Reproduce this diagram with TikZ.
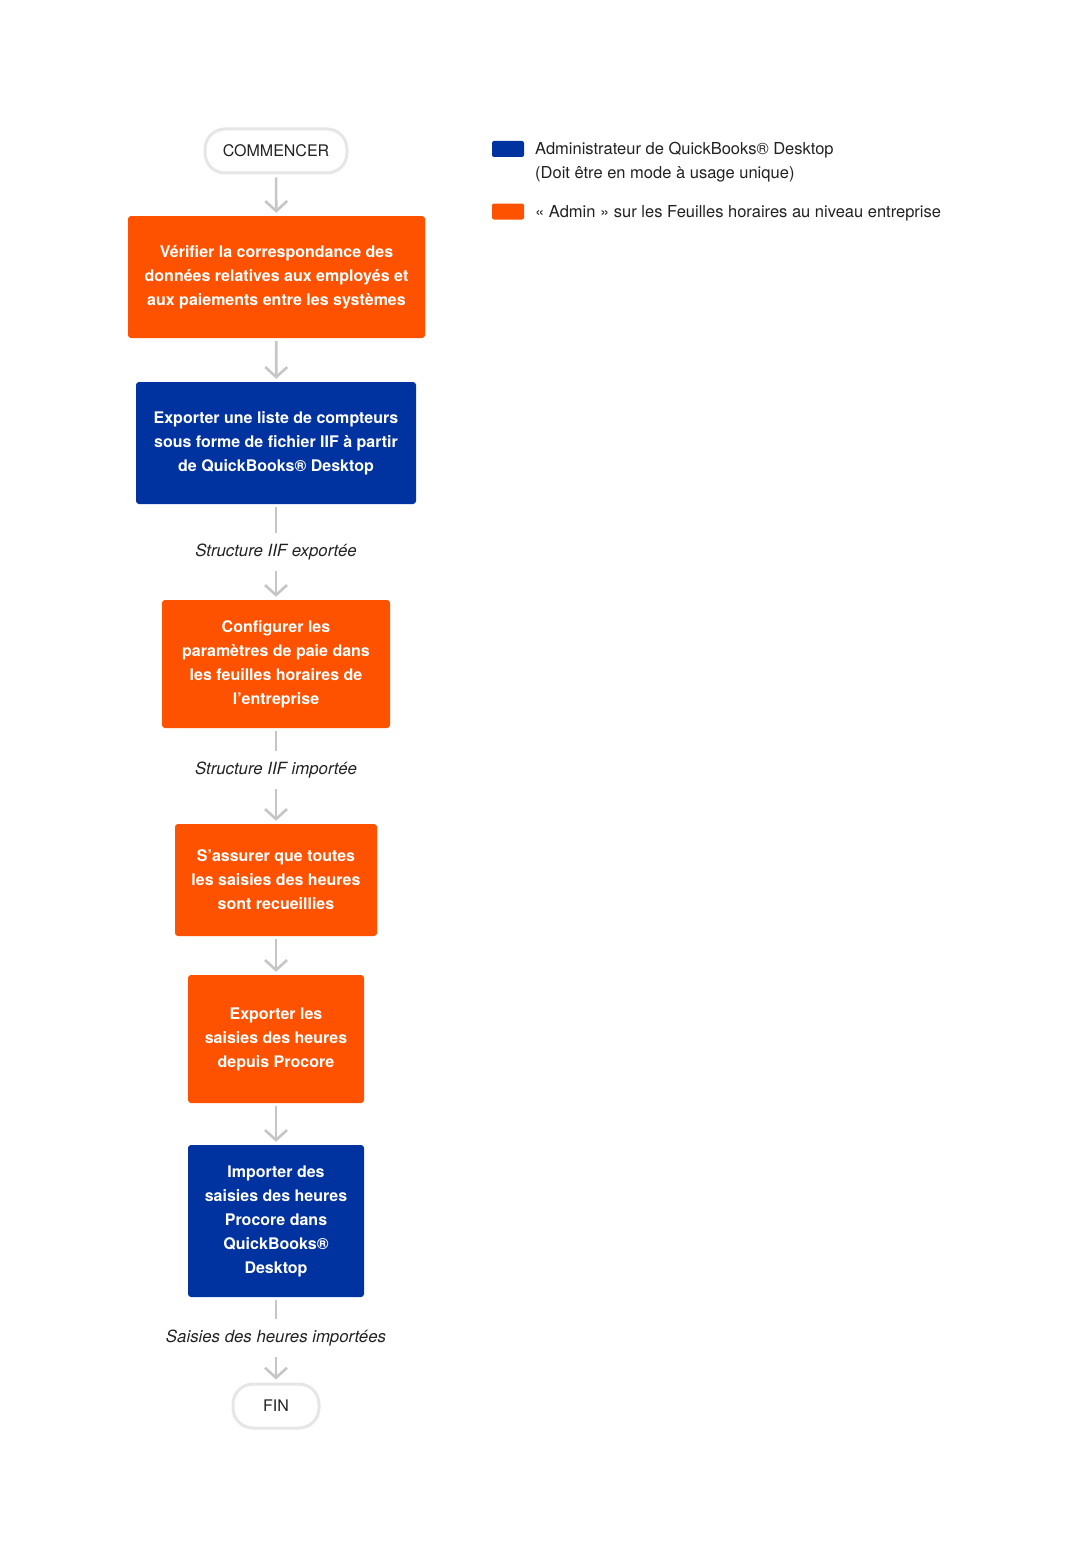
\documentclass[tikz,border=0pt]{standalone}
\usepackage{fontspec}
\setmainfont{TeX Gyre Heros}
\usepackage{tikz}
\usetikzlibrary{arrows.meta}
\definecolor{procorange}{HTML}{FF5200}
\definecolor{qbblue}{HTML}{0033A0}
\definecolor{flowgray}{HTML}{C6C6C6}
\definecolor{termgray}{HTML}{E6E6E6}
\definecolor{textgray}{HTML}{222222}
\tikzset{
  stepfont/.style={font=\fontsize{16}{24}\selectfont\bfseries, text=white, align=center},
  orangebox/.style={stepfont, fill=procorange, rounded corners=3pt, inner sep=0pt},
  bluebox/.style={stepfont, fill=qbblue, rounded corners=3pt, inner sep=0pt},
  termbox/.style={draw=termgray, line width=3pt, rounded corners=20pt, fill=white,
    text=textgray, font=\fontsize{16}{24}\selectfont, inner sep=0pt},
  flowlabel/.style={font=\fontsize{16.8}{24}\selectfont\itshape, text=textgray,
    minimum height=38pt, inner sep=0pt},
  flowline/.style={draw=flowgray, line width=2.6pt, shorten <=3pt},
  flow/.style={flowline, -{Straight Barb[length=10pt,width=22pt,line width=2.6pt]}, shorten >=3pt},
  keybox/.style={rounded corners=2pt, minimum width=32pt, minimum height=16pt, inner sep=0pt},
  keytext/.style={font=\fontsize{16.5}{24}\selectfont, text=textgray, align=left, inner sep=0pt, anchor=west}
}
\begin{document}
\begin{tikzpicture}[x=1pt,y=-1pt]
  \useasboundingbox (0,0) rectangle (1071,1557);

  % flow steps
  \node[termbox, minimum width=142pt, minimum height=44pt] (start) at (276,151) {COMMENCER};
  \node[orangebox, minimum width=297pt, minimum height=122pt] (verify) at (276.5,277)
    {Vérifier la correspondance des\\données relatives aux employés et\\aux paiements entre les systèmes};
  \node[bluebox, minimum width=280pt, minimum height=122pt] (export) at (276,443)
    {Exporter une liste de compteurs\\sous forme de fichier IIF à partir\\de QuickBooks® Desktop};
  \node[flowlabel] (exported) at (276,552) {Structure IIF exportée};
  \node[orangebox, minimum width=228pt, minimum height=128pt] (config) at (276,664)
    {Configurer les\\paramètres de paie dans\\les feuilles horaires de\\l'entreprise};
  \node[flowlabel] (imported) at (276,770) {Structure IIF importée};
  \node[orangebox, minimum width=202pt, minimum height=112pt] (collect) at (276,880)
    {S'assurer que toutes\\les saisies des heures\\sont recueillies};
  \node[orangebox, minimum width=176pt, minimum height=128pt] (exporthours) at (276,1039)
    {Exporter les\\saisies des heures\\depuis Procore};
  \node[bluebox, minimum width=176pt, minimum height=152pt] (importhours) at (276,1221)
    {Importer des\\saisies des heures\\Procore dans\\QuickBooks®\\Desktop};
  \node[flowlabel] (hoursdone) at (276,1338) {Saisies des heures importées};
  \node[termbox, minimum width=86pt, minimum height=44pt] (finish) at (276,1406) {FIN};

  % connectors
  \draw[flow] (start) -- (verify);
  \draw[flow] (verify) -- (export);
  \draw[flowline] (export) -- (exported);
  \draw[flow, shorten <=0pt] (exported) -- (config);
  \draw[flowline] (config) -- (imported);
  \draw[flow, shorten <=0pt] (imported) -- (collect);
  \draw[flow] (collect) -- (exporthours);
  \draw[flow] (exporthours) -- (importhours);
  \draw[flowline] (importhours) -- (hoursdone);
  \draw[flow, shorten <=0pt] (hoursdone) -- (finish);

  % legend
  \node[keybox, fill=qbblue] (keyblue) at (508,149) {};
  \node[keytext] (keybluetext) at (535,162)
    {Administrateur de QuickBooks® Desktop\\(Doit être en mode à usage unique)};
  \node[keybox, fill=procorange] (keyorange) at (508,211.5) {};
  \node[keytext] (keyorangetext) at (535,213) {« Admin » sur les Feuilles horaires au niveau entreprise};
\end{tikzpicture}
\end{document}
